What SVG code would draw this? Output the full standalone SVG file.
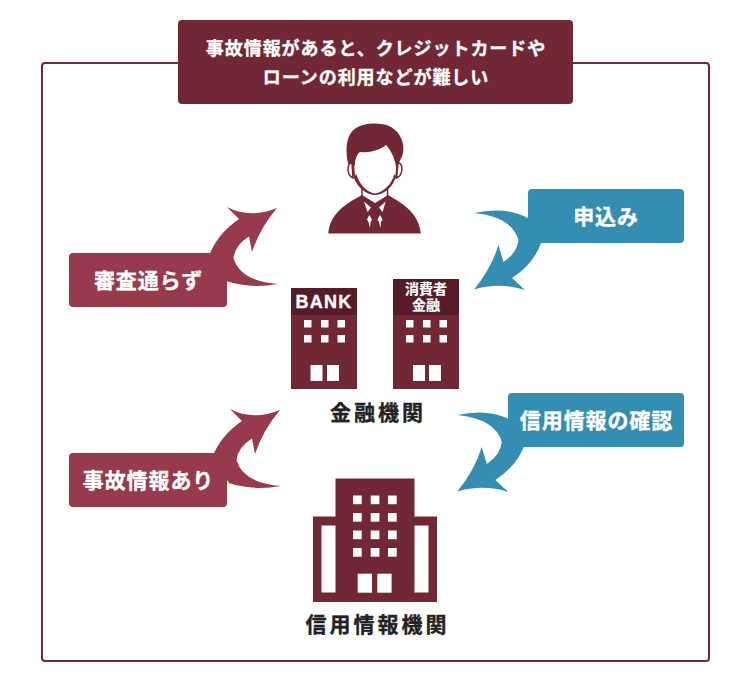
<svg xmlns="http://www.w3.org/2000/svg" width="750" height="682" viewBox="0 0 750 682">
<style>
text{font-family:"Noto Sans CJK JP","Noto Sans",sans-serif;font-weight:700;text-anchor:middle}
.w{fill:#fff;stroke:#fff;stroke-width:.35px}
.l{font-size:21px;letter-spacing:.9px}
.t{font-size:18px;letter-spacing:.95px}
.k{font-size:21px;letter-spacing:3px;fill:#222;stroke:#222;stroke-width:.35px}
.m{fill:#722735}
.r{fill:#963a4c}
.b{fill:#348eb1}
.d{fill:#561a28}
.s{font-size:14px;stroke-width:.2px}
</style>
<defs>
<path id="ar" d="M277,208 Q250,219 227,207 L239,219 Q217,234 209,256 L226,281 Q250,289 278,284 Q240,281 233.500,258 Q235,245 249,236.500 L252,252 Q260,228 277,208Z"/>
<path id="al" d="M474,289.500 Q500,282 525,290 L512,278 Q534,264 542,241 L528,218 Q505,206 474,213 Q512,217 518.500,240 Q517,253 503.500,262 L498.500,245 Q491,269 474,289.500Z"/>
<g id="win"><rect width="7.500" height="7.500" x="0" y="0"/><rect width="7.500" height="7.500" x="17" y="0"/><rect width="7.500" height="7.500" x="33.500" y="0"/><rect width="7.500" height="7.500" x="0" y="15"/><rect width="7.500" height="7.500" x="17" y="15"/><rect width="7.500" height="7.500" x="33.500" y="15"/></g>
</defs>
<rect x="42" y="63" width="667" height="598" rx="3" fill="#fff" stroke="#722735" stroke-width="2"/>
<g id="connectors">
<use href="#ar" class="r"/>
<use href="#ar" class="r" x="3" y="202"/>
<use href="#al" class="b"/>
<use href="#al" class="b" x="-16.700" y="202"/>
</g>
<g id="title">
<rect x="178" y="20" width="395" height="84" rx="4" class="m"/>
<text x="376" y="55" class="t w">事故情報があると、クレジットカードや</text>
<text x="376" y="84" class="t w">ローンの利用などが難しい</text>
</g>
<g id="person">
<path class="m" d="M328.300,233.500 C330,214 345,204 362,195 L375,203 L388,195 C404,204 419,214 420.800,233.500Z"/>
<path fill="#fff" d="M364,201.500 L371,207.500 L367.500,212Z M385.700,201.500 L379,207.500 L382.500,212Z M369.300,215 L372,219.500 L370.500,222 L370,228 L368.500,222 L367,219.500Z M380,215 L382.500,219.500 L381,222 L380.500,228 L379,222 L377.500,219.500Z"/>
<path fill="none" stroke="#722735" stroke-width="1.500" d="M362,186 V196 M387.500,186 V196"/>
<path class="m" d="M348,163 C344,143 349,131 358,127 C365,123 381,122 391,127 C400,132 405,143 403,153 C402,158 399,161 398,166 C398,178 390,194 375,195 C360,194 352,178 352,168Z"/>
<path fill="#fff" d="M355,162 C356,157 358,152 361,152 C370,153 380,150 386,145 C390,149 394,156 395.800,165 C396.500,176 388,191.500 375,193.500 C362,191.500 354,175 355,162Z"/>
<path fill="#fff" stroke="#722735" stroke-width="1.500" d="M352,163 C347,162 346,175 353,178 Z M398,163 C403,162 404,175 396.500,178 Z"/>
<path fill="#fff" d="M354,164 L357,172 L355,176 Z M396,164 L393.500,172 L395.500,176Z"/>
</g>
<g id="bank">
<rect x="291" y="288" width="66" height="101" class="m"/>
<rect x="291" y="288" width="66" height="27" class="d"/>
<text x="324" y="308" class="w" style="font-family:'Liberation Sans',sans-serif;font-size:18px;letter-spacing:1.200px">BANK</text>
<use href="#win" x="304" y="320" fill="#fff"/>
<rect x="310.500" y="365" width="12" height="16" fill="#fff"/><rect x="327" y="365" width="12" height="16" fill="#fff"/>
</g>
<g id="consumer">
<rect x="393" y="279" width="66" height="110" class="m"/>
<rect x="393" y="279" width="66" height="36" class="d"/>
<text class="w s"><tspan x="426" y="293.500">消費者</tspan><tspan x="426" y="310">金融</tspan></text>
<use href="#win" x="406" y="320" fill="#fff"/>
<rect x="413" y="365" width="12" height="16" fill="#fff"/><rect x="429" y="365" width="12" height="16" fill="#fff"/>
</g>
<g id="financial"><text x="378" y="420" class="k">金融機関</text></g>
<g id="credit">
<path class="m" d="M335.500,478.500 H414.500 V516.500 H437 V602 H313 V516.500 H335.500Z"/>
<g fill="#fff">
<rect x="321.500" y="525.500" width="14" height="67"/><rect x="414.500" y="525.500" width="14" height="67"/>
<rect x="353" y="495.500" width="8.700" height="8.700"/><rect x="370.700" y="495.500" width="8.700" height="8.700"/><rect x="388" y="495.500" width="8.700" height="8.700"/>
<rect x="353" y="513" width="8.700" height="8.700"/><rect x="370.700" y="513" width="8.700" height="8.700"/><rect x="388" y="513" width="8.700" height="8.700"/>
<rect x="353" y="530.500" width="8.700" height="8.700"/><rect x="370.700" y="530.500" width="8.700" height="8.700"/><rect x="388" y="530.500" width="8.700" height="8.700"/>
<rect x="353" y="548" width="8.700" height="8.700"/><rect x="370.700" y="548" width="8.700" height="8.700"/><rect x="388" y="548" width="8.700" height="8.700"/>
<rect x="357.700" y="573.700" width="14.300" height="19"/><rect x="377.300" y="573.700" width="14.300" height="19"/>
</g>
<text x="377.500" y="632" class="k">信用情報機関</text>
</g>
<g id="n-review"><rect x="69" y="253" width="158" height="54" rx="4" class="r"/><text x="148.500" y="288" class="l w">審査通らず</text></g>
<g id="n-accident"><rect x="69" y="453" width="158" height="54" rx="4" class="r"/><text x="148.500" y="488" class="l w">事故情報あり</text></g>
<g id="n-apply"><rect x="528" y="189" width="156" height="54" rx="4" class="b"/><text x="606" y="224" class="l w">申込み</text></g>
<g id="n-check"><rect x="508" y="393" width="176" height="54" rx="4" class="b"/><text x="596.500" y="428" class="l w">信用情報の確認</text></g>
</svg>
